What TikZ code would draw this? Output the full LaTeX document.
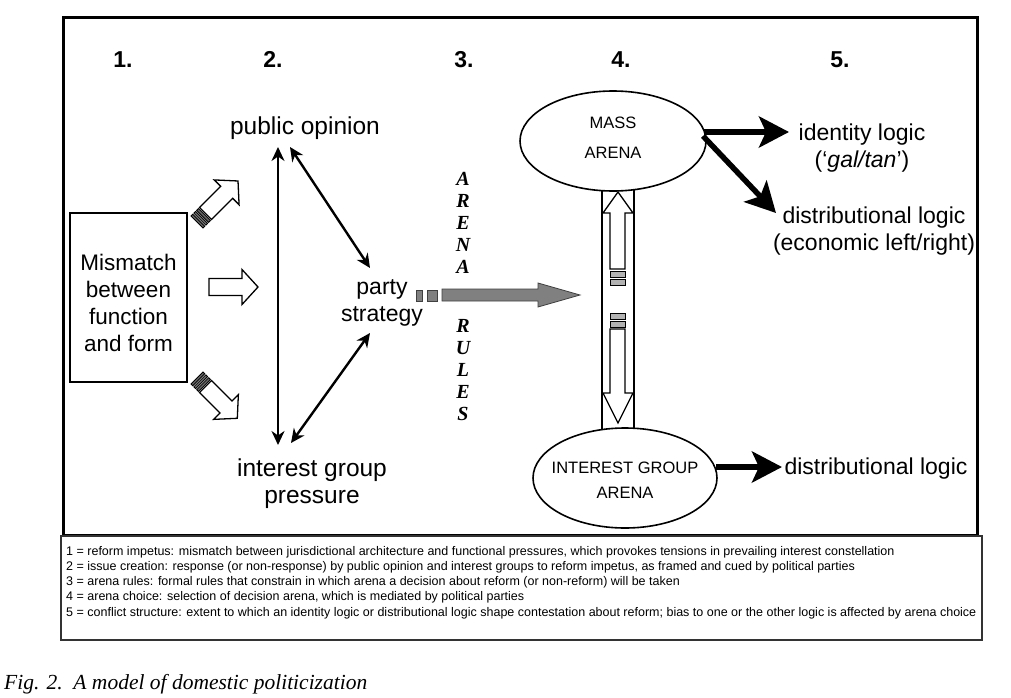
\documentclass[tikz,border=0pt]{standalone}
\usepackage{fontspec}
\setmainfont{Liberation Sans}
\newfontfamily\serifit{Liberation Serif}
\usetikzlibrary{arrows.meta,shapes.geometric}
\newcommand{\hollowarr}[5]{% x,y,angle,length,striped(1/0)
 \begin{scope}[shift={(#1,#2)}, rotate=#3]
  \ifnum#5=1
   \draw[line width=0.8pt, fill=black!60] (0,-8.5) rectangle (2.5,8.5);
   \draw[line width=0.8pt, fill=black!60] (4,-8.5) rectangle (6.5,8.5);
   \draw[line width=0.8pt, fill=black!60] (8,-8.5) rectangle (10.5,8.5);
   \draw[hollow] (12,-8.5) -- ({#4-16},-8.5) -- ({#4-16},-17.5) -- (#4,0) -- ({#4-16},17.5) -- ({#4-16},8.5) -- (12,8.5) -- cycle;
  \else
   \draw[hollow] (0,-8.5) -- ({#4-16},-8.5) -- ({#4-16},-17.5) -- (#4,0) -- ({#4-16},17.5) -- ({#4-16},8.5) -- (0,8.5) -- cycle;
  \fi
 \end{scope}}
\begin{document}
\begin{tikzpicture}[x=1pt,y=-1pt,
 txt/.style={font=\fontsize{23}{27}\selectfont, align=center, inner sep=0pt},
 num/.style={font=\fontsize{23}{27}\selectfont\bfseries, inner sep=0pt, anchor=base},
 arenanode/.style={ellipse, draw, line width=1.6pt, fill=white, minimum width=186pt, minimum height=100pt, align=center, inner sep=0pt},
 rulestxt/.style={font=\serifit\bfseries\itshape\fontsize{20}{22}\selectfont, align=center, inner sep=0pt},
 captxt/.style={font=\fontsize{12.5}{14}\selectfont, anchor=west, inner sep=0pt},
 thinarr/.style={line width=2.4pt, {Stealth[length=14pt,width=13pt,inset=4.5pt]}-{Stealth[length=14pt,width=13pt,inset=4.5pt]}},
 bigarr/.style={line width=5.5pt, -{Stealth[length=30pt,width=31pt,inset=7pt]}},
 hollow/.style={draw=black, line width=1.3pt, fill=white, line join=miter},
 greybox/.style={draw=black!75, line width=0.8pt, fill=black!50},
 stripe/.style={draw=black, line width=0.8pt, fill=black!30},
]
\useasboundingbox (0,0) rectangle (1011,698);
\fill[white] (0,0) rectangle (1011,698);

% frames
\draw[line width=3pt] (63,18) rectangle (977,535);
\draw[line width=2pt, draw=black!80] (61,536) rectangle (982,640);

% column numbers
\node[num] (n1) at (123,68) {1.};
\node[num] (n2) at (273,68) {2.};
\node[num] (n3) at (464,68) {3.};
\node[num] (n4) at (621,68) {4.};
\node[num] (n5) at (840,68) {5.};

% mismatch box
\node[draw, line width=2.5pt, minimum width=117pt, minimum height=169pt, inner sep=0pt] (mis) at (128.5,297.5) {};
\node[align=center, inner sep=0pt, font=\fontsize{22.5}{26.7}\selectfont] (mistxt) at (128.5,303) {Mismatch\\between\\function\\and form};

% hollow arrows from mismatch
\hollowarr{209}{287}{0}{49}{0}
\hollowarr{197}{222}{45}{58}{1}
\hollowarr{197}{378}{-45}{57}{1}

% column 2 texts
\node[txt, font=\fontsize{24.5}{27}\selectfont] (pub) at (305,128) {public opinion};
\node[txt] (party) at (382,303) {\fontsize{23}{24}\selectfont party\\strategy};
\node[txt, font=\fontsize{24.5}{27}\selectfont] (igp) at (312,484) {interest group\\pressure};

% thin double arrows
\coordinate (v1) at (278,147);
\coordinate (v2) at (278,445);
\coordinate (d1) at (290,147);
\coordinate (d2) at (370,268);
\coordinate (d3) at (370,333);
\coordinate (d4) at (291,443);
\draw[thinarr] (v1) -- (v2);
\draw[thinarr] (d1) -- (d2);
\draw[thinarr] (d3) -- (d4);

% arena rules
\node[rulestxt] (ar1) at (463,223) {A\\R\\E\\N\\A};
\node[rulestxt] (ar2) at (463,370) {R\\U\\L\\E\\S};

% grey arrow
\draw[greybox] (416,290) rectangle (422,301);
\draw[greybox] (427,290) rectangle (437,301);
\draw[greybox, line join=miter] (442,289) -- (538,289) -- (538,283) -- (580,295) -- (538,307) -- (538,301) -- (442,301) -- cycle;

% vertical double hollow arrow between arenas
\draw[line width=2pt] (602,185) -- (602,435);
\draw[line width=2pt] (634,185) -- (634,435);
\draw[hollow] (610,269) -- (610,213) -- (603,213) -- (618,192) -- (633,213) -- (625,213) -- (625,269) -- cycle;
\draw[stripe] (610,271) rectangle (625,277);
\draw[stripe] (610,279) rectangle (625,285);
\draw[stripe] (610,313) rectangle (625,319);
\draw[stripe] (610,321) rectangle (625,327);
\draw[hollow] (610,329) -- (610,393) -- (603,393) -- (618,423) -- (633,393) -- (625,393) -- (625,329) -- cycle;

% arenas
\node[arenanode] (mass) at (613,141) {};
\node[align=center, inner sep=0pt, font=\fontsize{16.5}{30}\selectfont] (masstxt) at (613,138) {MASS\\ARENA};
\node[arenanode, minimum width=184pt] (inter) at (625,478) {};
\node[align=center, inner sep=0pt, font=\fontsize{16.5}{25}\selectfont] (intertxt) at (625,480) {INTEREST GROUP\\ARENA};

% column 5 texts
\node[txt] (idl) at (862,148) {identity logic\\(‘\textit{gal/tan}’)};
\node[txt] (dl1) at (874,231) {distributional logic\\(economic left/right)};
\node[txt] (dl2) at (876,469) {distributional logic};

% thick arrows
\coordinate (m1) at (704,132);
\coordinate (t1) at (789,132);
\coordinate (m2) at (703,136);
\coordinate (t2) at (776,213);
\coordinate (i1) at (716,467);
\coordinate (t3) at (782,467);
\draw[bigarr] (m1) -- (t1);
\draw[bigarr] (m2) -- (t2);
\draw[bigarr] (i1) -- (t3);

% legend
\node[captxt] (c1) at (66,552) {1 = reform impetus: mismatch between jurisdictional architecture and functional pressures, which provokes tensions in prevailing interest constellation};
\node[captxt] (c2) at (66,567) {2 = issue creation: response (or non-response) by public opinion and interest groups to reform impetus, as framed and cued by political parties};
\node[captxt] (c3) at (66,582) {3 = arena rules: formal rules that constrain in which arena a decision about reform (or non-reform) will be taken};
\node[captxt] (c4) at (66,597) {4 = arena choice: selection of decision arena, which is mediated by political parties};
\node[captxt] (c5) at (66,613) {5 = conflict structure: extent to which an identity logic or distributional logic shape contestation about reform; bias to one or the other logic is affected by arena choice};

% figure caption
\node[anchor=west, inner sep=0pt, font=\serifit\itshape\fontsize{21.5}{25}\selectfont] (fig) at (4,684) {Fig. 2.\ \ A model of domestic politicization};
\end{tikzpicture}
\end{document}
